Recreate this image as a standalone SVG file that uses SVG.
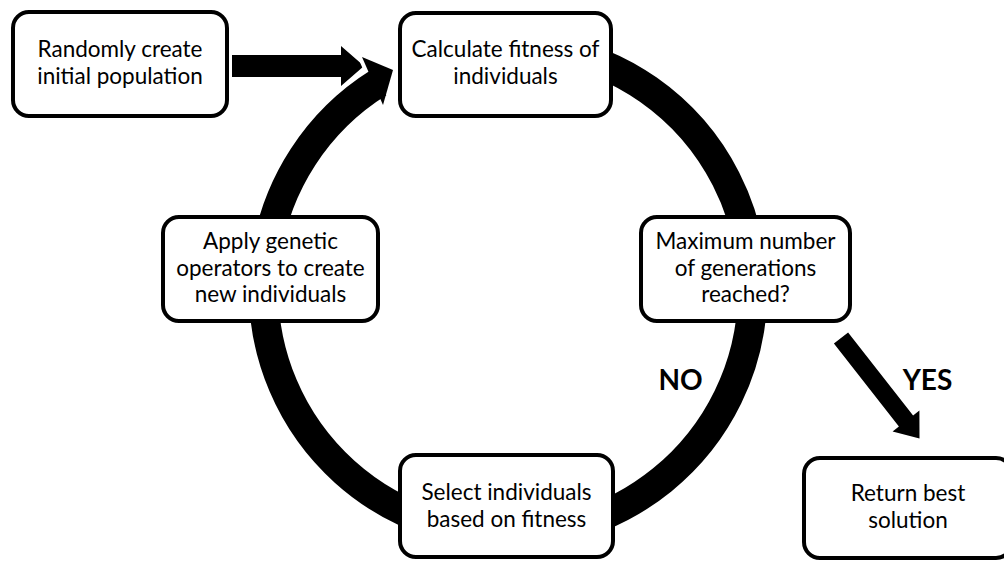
<svg xmlns="http://www.w3.org/2000/svg" width="1004" height="561" viewBox="0 0 1004 561">
  <style>
    .box { fill: #ffffff; stroke: #000000; stroke-width: 4; }
    .txt { font-family: Lato, "Liberation Sans", sans-serif; font-size: 22.5px; fill: #000000; text-anchor: middle; }
    .lbl { font-family: Lato, "Liberation Sans", sans-serif; font-size: 28px; font-weight: bold; fill: #000000; text-anchor: middle; }
    .arr { fill: #000000; stroke: none; }
  </style>
  <rect width="1004" height="561" fill="#ffffff"/>
  <g id="connectors">
    <polygon class="arr" points="232,55 341,55 341,46 364,66 341,86 341,77 232,77"/>
    <polygon points="362,57 393,70 383,105" fill="#ffffff" stroke="#ffffff" stroke-width="8" stroke-linejoin="round"/>
    <path d="M 378.5 82.7 A 244.5 244.5 0 1 0 550.5 49.2" fill="none" stroke="#000000" stroke-width="29.5"/>
    <polygon class="arr" points="362,57 393,70 383,105"/>
    <polygon class="arr" points="848.1,332.5 913.1,415.5 919.4,410.6 919.5,438.4 892.6,431.4 898.9,426.5 833.9,343.5"/>
    <text class="lbl" x="680.5" y="390">NO</text>
    <text class="lbl" x="927.5" y="390">YES</text>
  </g>
  <g id="node-init">
    <rect class="box" x="13" y="12" width="214" height="104" rx="16"/>
    <text class="txt" x="120" y="57">Randomly create</text>
    <text class="txt" x="120" y="84">initial population</text>
  </g>
  <g id="node-fitness">
    <rect class="box" x="400" y="13" width="211" height="103" rx="16"/>
    <text class="txt" x="505.5" y="57">Calculate fitness of</text>
    <text class="txt" x="505.5" y="84">individuals</text>
  </g>
  <g id="node-max">
    <rect class="box" x="641" y="217" width="209" height="104" rx="16"/>
    <text class="txt" x="745.5" y="249">Maximum number</text>
    <text class="txt" x="745.5" y="275.5">of generations</text>
    <text class="txt" x="745.5" y="302">reached?</text>
  </g>
  <g id="node-apply">
    <rect class="box" x="163" y="217" width="215" height="104" rx="16"/>
    <text class="txt" x="270.5" y="249">Apply genetic</text>
    <text class="txt" x="270.5" y="275.5">operators to create</text>
    <text class="txt" x="270.5" y="302">new individuals</text>
  </g>
  <g id="node-select">
    <rect class="box" x="400" y="455" width="213" height="102" rx="16"/>
    <text class="txt" x="506.5" y="500">Select individuals</text>
    <text class="txt" x="506.5" y="527">based on fitness</text>
  </g>
  <g id="node-return">
    <rect class="box" x="804" y="458" width="208" height="100" rx="16"/>
    <text class="txt" x="908" y="501">Return best</text>
    <text class="txt" x="908" y="528">solution</text>
  </g>
</svg>
